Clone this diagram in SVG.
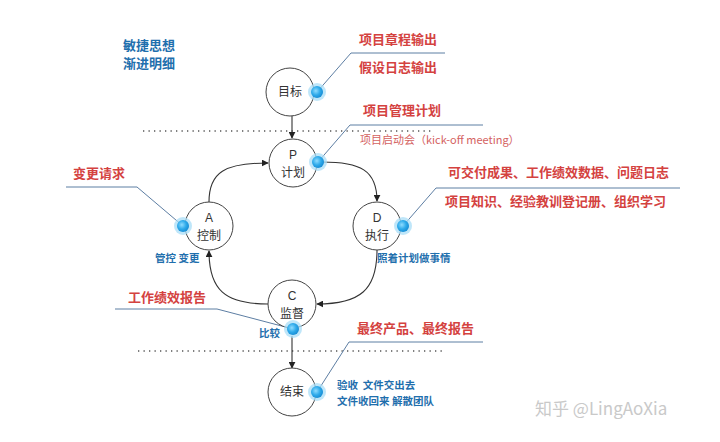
<svg xmlns="http://www.w3.org/2000/svg" width="720" height="442" viewBox="0 0 720 442">
<defs>
<style>
.bg{fill:#fff}
.node{fill:#fff;stroke:#444;stroke-width:1}
.lbl{font-family:"Liberation Sans","Noto Sans CJK SC",sans-serif;font-size:12px;fill:#333;text-anchor:middle}
.red{font-family:"Noto Sans CJK SC",sans-serif;font-size:13px;font-weight:bold;fill:#d4423f}
.redl{font-family:"Noto Sans CJK SC",sans-serif;font-size:11px;fill:#d4625f}
.blue{font-family:"Noto Sans CJK SC",sans-serif;font-size:13px;font-weight:bold;fill:#1f6fad}
.blues{font-family:"Noto Sans CJK SC",sans-serif;font-size:10.5px;font-weight:bold;fill:#1f6fad}
.lead{fill:none;stroke:#5d7ea3;stroke-width:1}
.conn{fill:none;stroke:#333;stroke-width:1.1}
.dots{stroke:#555;stroke-width:1.3;stroke-dasharray:1.3 4.2}
.wm{font-family:"Noto Sans CJK SC",sans-serif;font-size:17px;fill:#c9c9c9}
</style>
<radialGradient id="dotg" cx="40%" cy="40%" r="60%">
<stop offset="0" stop-color="#8fdcff"/>
<stop offset="0.6" stop-color="#2eaaea"/>
<stop offset="1" stop-color="#1a8fd6"/>
</radialGradient>
<marker id="arr" viewBox="0 0 10 10" refX="9" refY="5" markerWidth="7" markerHeight="7" orient="auto" markerUnits="userSpaceOnUse">
<path d="M0,0 L10,5 L0,10 z" fill="#222"/>
</marker>
<g id="dot">
<circle r="9" fill="#a9def7" opacity="0.75"/>
<circle r="6" fill="url(#dotg)"/>
</g>
</defs>
<rect class="bg" x="0" y="0" width="720" height="442"/>

<line class="dots" x1="143" y1="131" x2="432" y2="131"/>
<line class="dots" x1="138" y1="351" x2="442" y2="351"/>

<g id="connectors">
<line class="conn" x1="292" y1="116" x2="292" y2="138" marker-end="url(#arr)"/>
<path class="conn" d="M322,162 C360,162 377,170 377,201" marker-end="url(#arr)"/>
<path class="conn" d="M377,250 C377,290 360,304 317,304" marker-end="url(#arr)"/>
<path class="conn" d="M268,304 C225,304 209,290 209,251" marker-end="url(#arr)"/>
<path class="conn" d="M209,202 C209,172 225,163 268,163" marker-end="url(#arr)"/>
<line class="conn" x1="292" y1="336" x2="292" y2="368" stroke-width="1.6" marker-end="url(#arr)"/>
</g>

<g id="leaders">
<polyline class="lead" points="317,92 351,53 445,53"/>
<polyline class="lead" points="318,162 350,125 483,125"/>
<polyline class="lead" points="403,226 436,188 680,188"/>
<polyline class="lead" points="183,226 137,187 66,187"/>
<polyline class="lead" points="293,329 217,309 115,309"/>
<polyline class="lead" points="317,392 349,342 483,342"/>
</g>

<g id="n-goal">
<circle class="node" cx="290" cy="92" r="24"/>
<text class="lbl" x="290" y="96">目标</text>
<use href="#dot" x="317" y="92"/>
</g>
<g id="n-plan">
<circle class="node" cx="293" cy="163" r="24"/>
<text class="lbl" x="293" y="159">P</text>
<text class="lbl" x="293" y="177">计划</text>
<use href="#dot" x="318" y="162"/>
</g>
<g id="n-act">
<circle class="node" cx="209" cy="226" r="24"/>
<text class="lbl" x="209" y="222">A</text>
<text class="lbl" x="209" y="240">控制</text>
<use href="#dot" x="183" y="226"/>
</g>
<g id="n-do">
<circle class="node" cx="377" cy="226" r="24"/>
<text class="lbl" x="377" y="222">D</text>
<text class="lbl" x="377" y="240">执行</text>
<use href="#dot" x="403" y="226"/>
</g>
<g id="n-check">
<circle class="node" cx="292" cy="304" r="24"/>
<text class="lbl" x="292" y="300">C</text>
<text class="lbl" x="292" y="318">监督</text>
<use href="#dot" x="293" y="329"/>
</g>
<g id="n-end">
<circle class="node" cx="292" cy="392" r="24"/>
<text class="lbl" x="292" y="396">结束</text>
<use href="#dot" x="317" y="392"/>
</g>

<g id="labels">
<text class="blue" x="123" y="50">敏捷思想</text>
<text class="blue" x="123" y="68">渐进明细</text>
<text class="red" x="359" y="44">项目章程输出</text>
<text class="red" x="359" y="72">假设日志输出</text>
<text class="red" x="363" y="115">项目管理计划</text>
<text class="redl" x="360" y="144">项目启动会（kick-off meeting）</text>
<text class="red" x="448" y="177">可交付成果、工作绩效数据、问题日志</text>
<text class="red" x="445" y="206">项目知识、经验教训登记册、组织学习</text>
<text class="red" x="73" y="178">变更请求</text>
<text class="blues" x="155" y="262">管控 变更</text>
<text class="blues" x="377" y="262">照着计划做事情</text>
<text class="red" x="128" y="302">工作绩效报告</text>
<text class="blues" x="259" y="337">比较</text>
<text class="red" x="357" y="333">最终产品、最终报告</text>
<text class="blues" x="337" y="389" xml:space="preserve">验收  文件交出去</text>
<text class="blues" x="337" y="405">文件收回来 解散团队</text>
</g>
<text class="wm" x="535" y="415">知乎 @LingAoXia</text>
</svg>
